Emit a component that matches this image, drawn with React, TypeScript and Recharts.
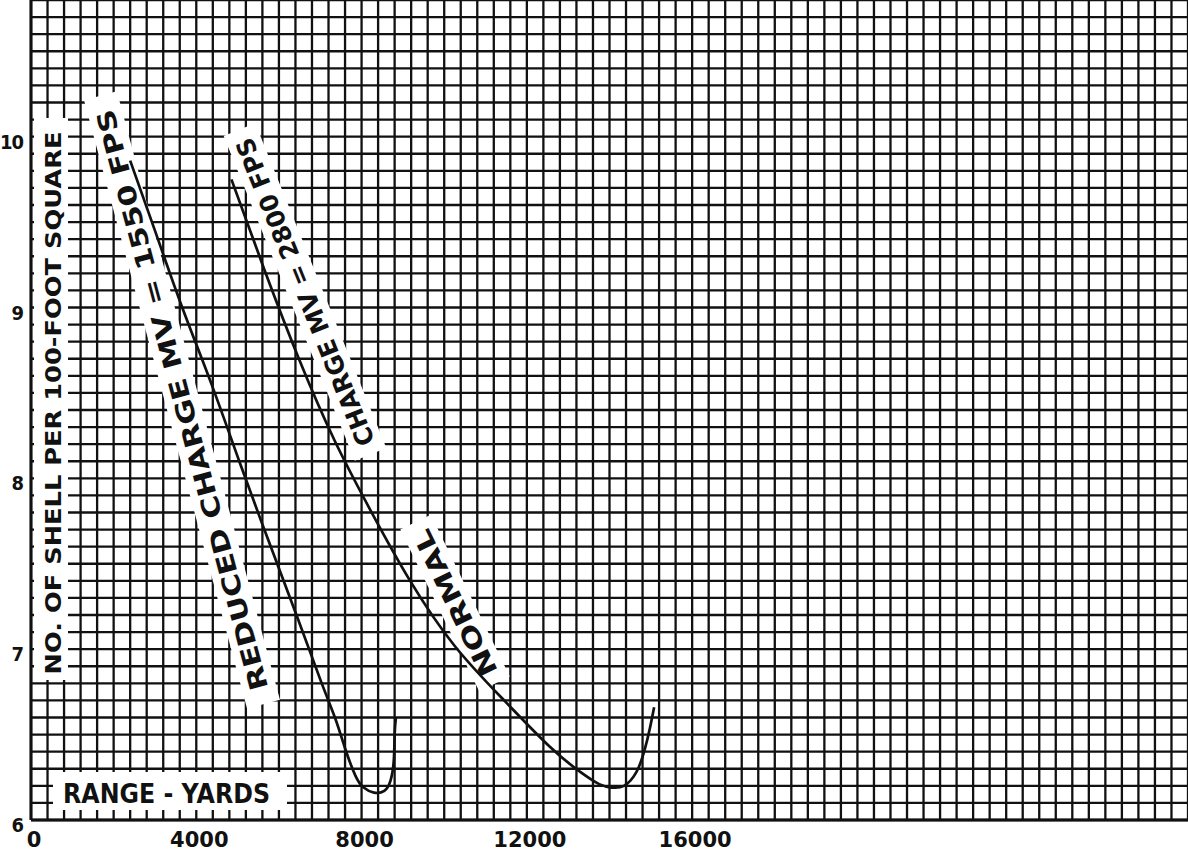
import React from 'react';
import { LineChart, Line, XAxis, YAxis, CartesianGrid, Customized } from 'recharts';

// Range in yards (x) and number of shell per 100-foot square (y)
const rangeReduced = [2400, 3000, 3660, 4370, 5040, 5740, 6440, 7020, 7370, 7600, 7850, 8050, 8300, 8550, 8700, 8780, 8800, 8830];
const shellsReduced = [9.86, 9.45, 9.0, 8.55, 8.1, 7.64, 7.19, 6.81, 6.59, 6.42, 6.26, 6.19, 6.16, 6.17, 6.23, 6.35, 6.5, 6.6];
const rangeNormal = [4850, 5650, 6500, 7350, 8200, 9150, 10250, 11450, 12550, 13300, 13750, 14050, 14350, 14650, 14850, 14980, 15080];
const shellsNormal = [9.75, 9.22, 8.69, 8.22, 7.82, 7.41, 7.02, 6.7, 6.43, 6.28, 6.21, 6.19, 6.2, 6.28, 6.41, 6.54, 6.66];

const xLabelTicks = [0, 4000, 8000, 12000, 16000];
const yLabelTicks = [6, 7, 8, 9, 10];
const xDomain = [0, 28000];
const yDomain = [6, 10.8];
const xStep = 400;
const yStep = 0.1;

const xGridTicks = Array.from({ length: Math.round((xDomain[1] - xDomain[0]) / xStep) + 1 }, (_, i) => xDomain[0] + i * xStep);
const yGridTicks = Array.from({ length: Math.round((yDomain[1] - yDomain[0]) / yStep) + 1 }, (_, i) => Math.round((yDomain[0] + i * yStep) * 10) / 10);

const reducedData = rangeReduced.map((x, i) => ({ x, y: shellsReduced[i] }));
const normalData = rangeNormal.map((x, i) => ({ x, y: shellsNormal[i] }));

const FONT = '"DejaVu Sans", sans-serif';
const FONT_C = '"DejaVu Sans Condensed", "DejaVu Sans", sans-serif';
const INK = '#111';

const XTick = (props: any) => {
  const { x, y, payload } = props;
  if (!xLabelTicks.includes(payload.value)) return null;
  return (
    <text x={x + 3} y={y + 19} textAnchor="middle" fontFamily={FONT} fontWeight="bold" fontSize={21} fill={INK}>
      {payload.value}
    </text>
  );
};

const YTick = (props: any) => {
  const { x, y, payload } = props;
  if (!yLabelTicks.includes(payload.value)) return null;
  return (
    <text x={x - 1} y={y + 12} textAnchor="end" fontFamily={FONT_C} fontWeight="bold" fontSize={20} fill={INK}
      letterSpacing={-1}>
      {payload.value}
    </text>
  );
};

const Label = ({ cx, cy, angle, w, h, len, size, text }: any) => (
  <g transform={`translate(${cx},${cy}) rotate(${angle})`}>
    <rect x={-w / 2} y={-h / 2} width={w} height={h} fill="#fff" />
    <text x={0} y={size * 0.36} textAnchor="middle" fontFamily={FONT} fontWeight="bold" fontSize={size} fill={INK}
      textLength={len} lengthAdjust="spacingAndGlyphs">
      {text}
    </text>
  </g>
);

const Annotations = () => (
  <g>
    <rect x={34} y={118} width={34} height={562} fill="#fff" />
    <text transform="translate(61,403) rotate(-90)" textAnchor="middle" fontFamily={FONT} fontWeight="bold" fontSize={21}
      fill={INK} textLength={543} lengthAdjust="spacingAndGlyphs">
      NO. OF SHELL PER 100-FOOT SQUARE
    </text>
    <rect x={53} y={772} width={234} height={38} fill="#fff" />
    <text x={63} y={803} fontFamily={FONT} fontWeight="bold" fontSize={27} fill={INK} textLength={207} lengthAdjust="spacingAndGlyphs">
      RANGE - YARDS
    </text>
    <Label cx={182} cy={400} angle={-105} w={630} h={34} len={600} size={25} text="REDUCED CHARGE  MV = 1550 FPS" />
    <Label cx={305} cy={292} angle={-112} w={350} h={34} len={330} size={25} text="CHARGE  MV = 2800 FPS" />
    <Label cx={455} cy={603} angle={-116} w={180} h={34} len={160} size={25} text="NORMAL" />
  </g>
);

export default function App() {
  return (
    <div style={{ position: 'absolute', left: 0, top: 0, background: '#fff' }}>
      <LineChart width={1188} height={856} margin={{ top: 0, right: 0, bottom: 0, left: 0 }}>
        <CartesianGrid stroke={INK} strokeWidth={2.3} horizontal vertical />
        <XAxis type="number" dataKey="x" domain={xDomain} ticks={xGridTicks} interval={0} height={36}
          axisLine={{ stroke: INK, strokeWidth: 3 }} tickLine={false} tick={<XTick />} allowDataOverflow />
        <YAxis type="number" dataKey="y" domain={yDomain} ticks={yGridTicks} interval={0} width={31}
          axisLine={{ stroke: INK, strokeWidth: 3 }} tickLine={false} tickSize={4} tickMargin={3} tick={<YTick />} allowDataOverflow />
        <Customized component={Annotations} />
        <Line data={reducedData} dataKey="y" type="natural" dot={false} stroke={INK} strokeWidth={2.7} isAnimationActive={false} />
        <Line data={normalData} dataKey="y" type="natural" dot={false} stroke={INK} strokeWidth={2.7} isAnimationActive={false} />
      </LineChart>
    </div>
  );
}
